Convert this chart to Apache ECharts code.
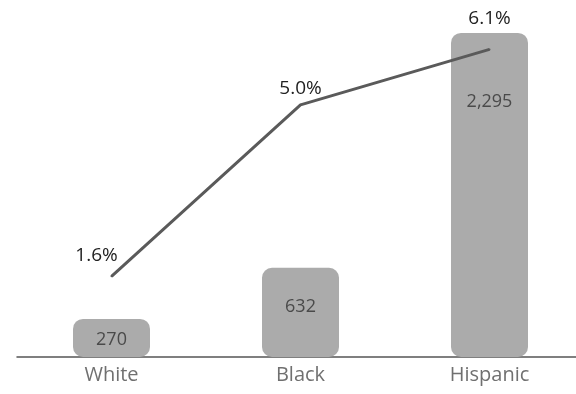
<!DOCTYPE html>
<html>
<head>
<meta charset="utf-8">
<script src="https://cdn.jsdelivr.net/npm/echarts@6/dist/echarts.min.js"></script>
<style>
  html, body { margin: 0; padding: 0; background: #ffffff; }
  #chart { width: 576px; height: 394px; }
</style>
</head>
<body>
<div id="chart"></div>
<script>
// Groups shown on the category axis
const categories = ['White', 'Black', 'Hispanic'];
// Counts drawn as bars
const counts = [270, 632, 2295];
// Rates drawn as the line (percent)
const rates = [1.6, 5.0, 6.1];

const FONT = '"Open Sans", sans-serif';

// Distance of each count label below its bar top
const countLabelDistance = [12, 30, 60];
// Distance of each rate label above its point, and sideways shift
const rateLabelDistance = [10, 6, 20];
const rateLabelShift = [-15, 0, 0];

const chart = echarts.init(document.getElementById('chart'));

chart.setOption({
  animation: false,
  backgroundColor: '#ffffff',
  grid: { left: 17, width: 567, top: 4, bottom: 37, outerBoundsMode: 'none', containLabel: false },
  xAxis: {
    type: 'category',
    data: categories,
    axisLine: { lineStyle: { color: '#555555', width: 1.5 } },
    axisTick: { show: false },
    axisLabel: { color: '#707070', fontSize: 20, fontFamily: FONT, margin: 8 }
  },
  yAxis: [
    { type: 'value', min: 0, max: 2500, show: false, splitLine: { show: false } },
    { type: 'value', min: 0, max: 7, show: false, splitLine: { show: false } }
  ],
  series: [
    {
      type: 'bar',
      yAxisIndex: 0,
      barWidth: 77,
      data: counts.map((v, i) => ({
        value: v,
        label: { position: 'insideTop', distance: countLabelDistance[i] }
      })),
      itemStyle: { color: '#ababab', borderRadius: 10 },
      label: {
        show: true,
        color: '#4a4a4a',
        fontSize: 18,
        fontFamily: FONT,
        formatter: p => p.value.toLocaleString('en-US')
      },
      z: 2
    },
    {
      type: 'line',
      yAxisIndex: 1,
      data: rates.map((v, i) => ({
        value: v,
        label: { distance: rateLabelDistance[i], offset: [rateLabelShift[i], 0] }
      })),
      symbol: 'circle',
      symbolSize: 2,
      showSymbol: true,
      itemStyle: { color: '#5a5a5a' },
      lineStyle: { color: '#5a5a5a', width: 3 },
      label: {
        show: true,
        position: 'top',
        color: '#222222',
        fontSize: 19,
        fontFamily: FONT,
        formatter: p => p.value.toFixed(1) + '%'
      },
      z: 3
    }
  ]
});
</script>
</body>
</html>
